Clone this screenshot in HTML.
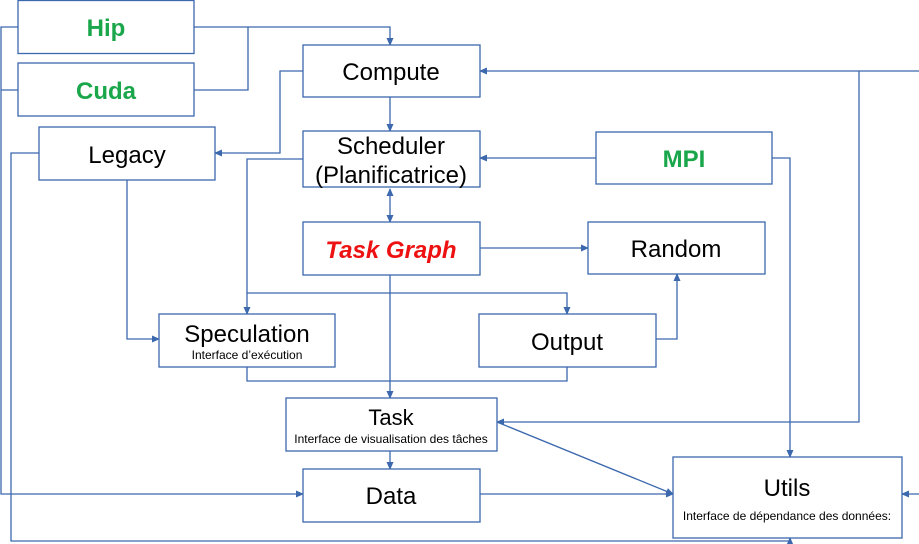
<!DOCTYPE html>
<html><head><meta charset="utf-8"><style>
html,body{margin:0;padding:0;background:#fff;}
svg{display:block;font-family:"Liberation Sans",sans-serif;}
</style></head><body>
<svg width="919" height="544" viewBox="0 0 919 544" xmlns="http://www.w3.org/2000/svg">
<defs>
<marker id="a" markerWidth="8" markerHeight="8" refX="7" refY="4" orient="auto" markerUnits="userSpaceOnUse">
<path d="M0,0.5 L8,4 L0,7.5 z" fill="#3c68ad"/></marker>
<marker id="s" markerWidth="8" markerHeight="8" refX="1" refY="4" orient="auto" markerUnits="userSpaceOnUse">
<path d="M8,0.5 L0,4 L8,7.5 z" fill="#3c68ad"/></marker>
</defs>
<g fill="none" stroke="#3c68ad" stroke-width="1.3">
<polyline points="194,27 390,27 390,45" marker-end="url(#a)"/>
<polyline points="194,90 248,90 248,27"/>
<polyline points="18,27 1,27 1,494 303,494" marker-end="url(#a)"/>
<polyline points="18,90 1,90"/>
<polyline points="39,153 11,153 11,541 790,541 790,538" marker-end="url(#a)"/>
<polyline points="303,71 280,71 280,153 215,153" marker-end="url(#a)"/>
<line x1="390" y1="97" x2="390" y2="131" marker-end="url(#a)"/>
<line x1="390" y1="189" x2="390" y2="222" marker-start="url(#s)" marker-end="url(#a)"/>
<polyline points="303,159 247,159 247,314" marker-end="url(#a)"/>
<polyline points="247,293 567,293 567,314" marker-end="url(#a)"/>
<polyline points="127,180 127,339 159,339" marker-end="url(#a)"/>
<line x1="390" y1="275" x2="390" y2="398" marker-end="url(#a)"/>
<polyline points="247,367 247,381 567,381 567,367"/>
<line x1="480" y1="248" x2="588" y2="248" marker-end="url(#a)"/>
<polyline points="656,339 677,339 677,274" marker-end="url(#a)"/>
<line x1="596" y1="158" x2="480" y2="158" marker-end="url(#a)"/>
<polyline points="772,158 790,158 790,457" marker-end="url(#a)"/>
<line x1="919" y1="71" x2="480" y2="71" marker-end="url(#a)"/>
<polyline points="859,71 859,422 497,422" marker-end="url(#a)"/>
<line x1="390" y1="451" x2="390" y2="469" marker-end="url(#a)"/>
<line x1="497" y1="422" x2="673" y2="494" marker-end="url(#a)"/>
<line x1="480" y1="494" x2="673" y2="494" marker-end="url(#a)"/>
<line x1="919" y1="494" x2="902" y2="494" marker-end="url(#a)"/>
</g>
<g fill="#fff" stroke="#3c68ad" stroke-width="1.3">
<rect x="18" y="0.5" width="176" height="53"/>
<rect x="18" y="63" width="176" height="53"/>
<rect x="39" y="127" width="176" height="53"/>
<rect x="303" y="45" width="177" height="52"/>
<rect x="303" y="131" width="177" height="56"/>
<rect x="596" y="132" width="176" height="52"/>
<rect x="303" y="222" width="177" height="53"/>
<rect x="588" y="222" width="177" height="52"/>
<rect x="159" y="314" width="176" height="53"/>
<rect x="479" y="314" width="177" height="53"/>
<rect x="286" y="398" width="211" height="53"/>
<rect x="303" y="469" width="177" height="53"/>
<rect x="673" y="457" width="229" height="81"/>
</g>
<g text-anchor="middle" font-size="24">
<text x="106" y="36" fill="#1aa64a" font-weight="bold">Hip</text>
<text x="106" y="99" fill="#1aa64a" font-weight="bold">Cuda</text>
<text x="127" y="163">Legacy</text>
<text x="391" y="80">Compute</text>
<text x="391" y="154">Scheduler</text>
<text x="391" y="183">(Planificatrice)</text>
<text x="684" y="167" fill="#1aa64a" font-weight="bold">MPI</text>
<text x="391" y="258" fill="#ee1111" font-weight="bold" font-style="italic">Task Graph</text>
<text x="676" y="257">Random</text>
<text x="247" y="342">Speculation</text>
<text x="247" y="359" font-size="12">Interface d’exécution</text>
<text x="567" y="350">Output</text>
<text x="391" y="425" font-size="22">Task</text>
<text x="391" y="443" font-size="12">Interface de visualisation des tâches</text>
<text x="391" y="504">Data</text>
<text x="787" y="496">Utils</text>
<text x="787" y="520" font-size="12">Interface de dépendance des données:</text>
</g>
</svg>
</body></html>
